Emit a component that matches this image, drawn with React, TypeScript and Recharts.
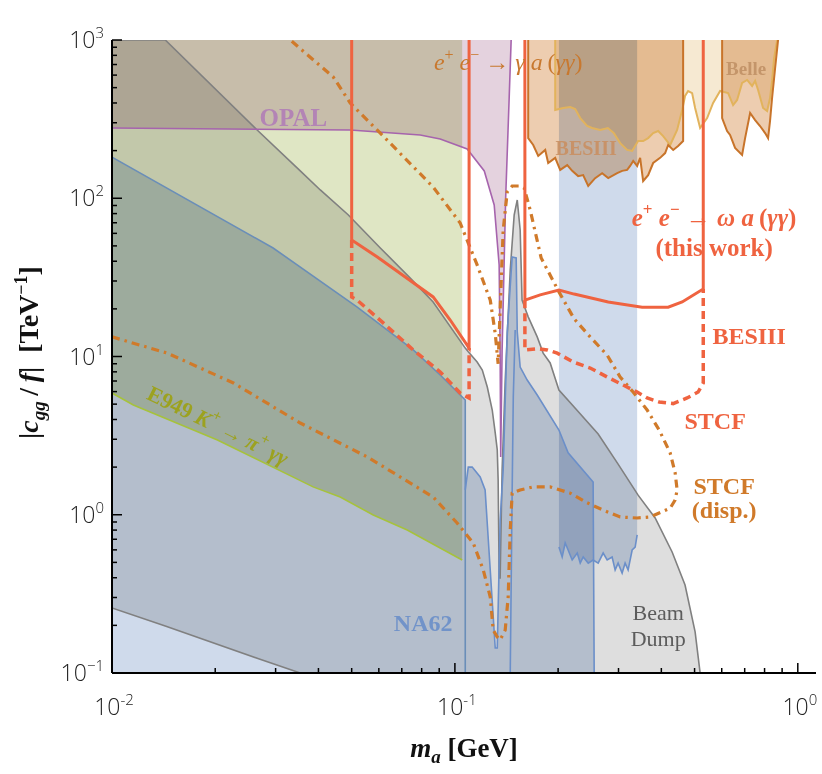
import React from 'react';
import { Area, ComposedChart, Line, ReferenceDot, XAxis, YAxis } from 'recharts';

// m_a in GeV, |c_gg/f| in TeV^-1. Bands are [lo, hi] ranges at each mass.
type Band = { m: number; lo: number; hi: number };
type Pt = { m: number; c: number };

const xTicks = [0.01, 0.02, 0.03, 0.04, 0.05, 0.06, 0.07, 0.08, 0.09, 0.1, 0.2, 0.3, 0.4, 0.5, 0.6, 0.7, 0.8, 0.9, 1];
const yTicks = [
  0.1, 0.2, 0.3, 0.4, 0.5, 0.6, 0.7, 0.8, 0.9, 1, 2, 3, 4, 5, 6, 7, 8, 9, 10, 20, 30, 40, 50, 60, 70, 80, 90,
  100, 200, 300, 400, 500, 600, 700, 800, 900, 1000,
];

const beamDump: Band[] = [
  { m: 0.01, lo: 0.2575, hi: 1000 },
  { m: 0.0143, lo: 0.198, hi: 1000 },
  { m: 0.0265, lo: 0.124, hi: 270 },
  { m: 0.0354, lo: 0.1, hi: 149 },
  { m: 0.0405, lo: 0.1, hi: 112.8 },
  { m: 0.0489, lo: 0.1, hi: 78.4 },
  { m: 0.0606, lo: 0.1, hi: 48.5 },
  { m: 0.0741, lo: 0.1, hi: 31.3 },
  { m: 0.0864, lo: 0.1, hi: 22.1 },
  { m: 0.1072, lo: 0.1, hi: 11.3 },
  { m: 0.1094, lo: 0.1, hi: 10.7 },
  { m: 0.1161, lo: 0.1, hi: 9.23 },
  { m: 0.1202, lo: 0.1, hi: 8.22 },
  { m: 0.1243, lo: 0.1, hi: 6.42 },
  { m: 0.1285, lo: 0.1, hi: 4.59 },
  { m: 0.1311, lo: 0.1, hi: 3.29 },
  { m: 0.1329, lo: 0.1, hi: 2.57 },
  { m: 0.1337, lo: 0.1, hi: 1.66 },
  { m: 0.1346, lo: 0.1, hi: 0.398 },
  { m: 0.1355, lo: 0.1, hi: 0.398 },
  { m: 0.1373, lo: 0.1, hi: 1.92 },
  { m: 0.1402, lo: 0.1, hi: 7.1 },
  { m: 0.145, lo: 0.1, hi: 35.2 },
  { m: 0.1489, lo: 0.1, hi: 78.4 },
  { m: 0.152, lo: 0.1, hi: 97.5 },
  { m: 0.155, lo: 0.1, hi: 63 },
  { m: 0.157, lo: 0.1, hi: 22.7 },
  { m: 0.1636, lo: 0.1, hi: 17.8 },
  { m: 0.1738, lo: 0.1, hi: 13.3 },
  { m: 0.1809, lo: 0.1, hi: 10.5 },
  { m: 0.1896, lo: 0.1, hi: 9.1 },
  { m: 0.2011, lo: 0.1, hi: 6.14 },
  { m: 0.2227, lo: 0.1, hi: 4.8 },
  { m: 0.2617, lo: 0.1, hi: 3.24 },
  { m: 0.2992, lo: 0.1, hi: 2.09 },
  { m: 0.3422, lo: 0.1, hi: 1.33 },
  { m: 0.3837, lo: 0.1, hi: 0.954 },
  { m: 0.43, lo: 0.1, hi: 0.582 },
  { m: 0.469, lo: 0.1, hi: 0.36 },
  { m: 0.5018, lo: 0.1, hi: 0.182 },
  { m: 0.519, lo: 0.1, hi: 0.1 },
];

const na62Low: Band[] = [
  { m: 0.01, lo: 0.1, hi: 182 },
  { m: 0.0295, lo: 0.1, hi: 48.5 },
  { m: 0.0519, lo: 0.1, hi: 20.5 },
  { m: 0.0756, lo: 0.1, hi: 11.0 },
  { m: 0.0906, lo: 0.1, hi: 7.64 },
  { m: 0.1072, lo: 0.1, hi: 5.31 },
  { m: 0.1072, lo: 0.1, hi: 0.1 },
];

const na62High: Band[] = [
  { m: 0.1072, lo: 0.1, hi: 1.434 },
  { m: 0.1094, lo: 0.1, hi: 2.0 },
  { m: 0.1123, lo: 0.1, hi: 2.0 },
  { m: 0.1185, lo: 0.1, hi: 1.733 },
  { m: 0.1225, lo: 0.1, hi: 1.434 },
  { m: 0.1311, lo: 0.1, hi: 0.144 },
  { m: 0.1329, lo: 0.1, hi: 0.144 },
  { m: 0.1355, lo: 0.1, hi: 0.927 },
  { m: 0.1383, lo: 0.1, hi: 1.92 },
  { m: 0.1421, lo: 0.1, hi: 14.3 },
  { m: 0.1469, lo: 0.1, hi: 42.5 },
  { m: 0.1509, lo: 0.1, hi: 42 },
  { m: 0.152, lo: 0.1, hi: 14.3 },
  { m: 0.155, lo: 0.1, hi: 8.58 },
  { m: 0.1625, lo: 0.1, hi: 7.1 },
  { m: 0.1738, lo: 0.1, hi: 5.71 },
  { m: 0.2011, lo: 0.1, hi: 3.43 },
  { m: 0.2139, lo: 0.1, hi: 2.46 },
  { m: 0.253, lo: 0.1, hi: 1.61 },
  { m: 0.2548, lo: 0.1, hi: 0.1 },
];

const na62Inner: Pt[] = [
  { m: 0.145, c: 0.1 },
  { m: 0.1469, c: 1.43 },
  { m: 0.148, c: 5.55 },
  { m: 0.1499, c: 14.7 },
];

const na62Band: Band[] = [
  { m: 0.2011, lo: 0.625, hi: 1000 },
  { m: 0.2055, lo: 0.541, hi: 1000 },
  { m: 0.2097, lo: 0.663, hi: 1000 },
  { m: 0.2139, lo: 0.599, hi: 1000 },
  { m: 0.2198, lo: 0.518, hi: 1000 },
  { m: 0.2274, lo: 0.573, hi: 1000 },
  { m: 0.232, lo: 0.495, hi: 1000 },
  { m: 0.2367, lo: 0.541, hi: 1000 },
  { m: 0.2448, lo: 0.495, hi: 1000 },
  { m: 0.253, lo: 0.518, hi: 1000 },
  { m: 0.2617, lo: 0.495, hi: 1000 },
  { m: 0.2706, lo: 0.573, hi: 1000 },
  { m: 0.278, lo: 0.518, hi: 1000 },
  { m: 0.2874, lo: 0.541, hi: 1000 },
  { m: 0.2933, lo: 0.448, hi: 1000 },
  { m: 0.2992, lo: 0.495, hi: 1000 },
  { m: 0.3074, lo: 0.428, hi: 1000 },
  { m: 0.3136, lo: 0.495, hi: 1000 },
  { m: 0.32, lo: 0.448, hi: 1000 },
  { m: 0.3288, lo: 0.599, hi: 1000 },
  { m: 0.3355, lo: 0.625, hi: 1000 },
  { m: 0.34, lo: 0.745, hi: 1000 },
];

const e949: Band[] = [
  { m: 0.01, lo: 5.88, hi: 1000 },
  { m: 0.01154, lo: 4.94, hi: 1000 },
  { m: 0.0203, lo: 2.97, hi: 1000 },
  { m: 0.0386, lo: 1.5, hi: 1000 },
  { m: 0.0463, lo: 1.295, hi: 1000 },
  { m: 0.0578, lo: 0.996, hi: 1000 },
  { m: 0.0726, lo: 0.8, hi: 1000 },
  { m: 0.105, lo: 0.518, hi: 1000 },
];

const opal: Band[] = [
  { m: 0.01, lo: 278, hi: 1000 },
  { m: 0.0495, lo: 270, hi: 1000 },
  { m: 0.0792, lo: 251, hi: 1000 },
  { m: 0.0906, lo: 237, hi: 1000 },
  { m: 0.1086, lo: 205, hi: 1000 },
  { m: 0.1218, lo: 148.7, hi: 1000 },
  { m: 0.1302, lo: 90.7, hi: 1000 },
  { m: 0.1346, lo: 37.9, hi: 1000 },
  { m: 0.1355, lo: 10.5, hi: 1000 },
  { m: 0.136, lo: 2.32, hi: 1000 },
  { m: 0.1373, lo: 10.9, hi: 1000 },
  { m: 0.1406, lo: 100, hi: 1000 },
  { m: 0.144, lo: 436, hi: 1000 },
  { m: 0.1459, lo: 1000, hi: 1000 },
];

const besiiiGamma: Band[] = [
  { m: 0.1636, lo: 1000, hi: 1000 },
  { m: 0.1636, lo: 240, hi: 1000 },
  { m: 0.1692, lo: 217, hi: 1000 },
  { m: 0.175, lo: 185, hi: 1000 },
  { m: 0.1834, lo: 202, hi: 1000 },
  { m: 0.1871, lo: 167, hi: 1000 },
  { m: 0.1961, lo: 180, hi: 1000 },
  { m: 0.2028, lo: 151, hi: 1000 },
  { m: 0.2126, lo: 162, hi: 1000 },
  { m: 0.2198, lo: 149, hi: 1000 },
  { m: 0.2288, lo: 138, hi: 1000 },
  { m: 0.2366, lo: 140, hi: 1000 },
  { m: 0.2448, lo: 119.5, hi: 1000 },
  { m: 0.2564, lo: 134, hi: 1000 },
  { m: 0.2688, lo: 144, hi: 1000 },
  { m: 0.28, lo: 134, hi: 1000 },
  { m: 0.2973, lo: 144, hi: 1000 },
  { m: 0.3074, lo: 149, hi: 1000 },
  { m: 0.3179, lo: 151, hi: 1000 },
  { m: 0.3243, lo: 160, hi: 1000 },
  { m: 0.3311, lo: 172, hi: 1000 },
  { m: 0.34, lo: 160, hi: 1000 },
  { m: 0.3469, lo: 180, hi: 1000 },
  { m: 0.354, lo: 128.5, hi: 1000 },
  { m: 0.3661, lo: 140, hi: 1000 },
  { m: 0.3786, lo: 167, hi: 1000 },
  { m: 0.3967, lo: 180, hi: 1000 },
  { m: 0.4103, lo: 193, hi: 1000 },
  { m: 0.4188, lo: 217, hi: 1000 },
  { m: 0.4331, lo: 202, hi: 1000 },
  { m: 0.4477, lo: 214, hi: 1000 },
  { m: 0.463, lo: 230, hi: 1000 },
  { m: 0.463, lo: 1000, hi: 1000 },
];

const besiiiGamma2: Band[] = [
  { m: 0.6016, lo: 1000, hi: 1000 },
  { m: 0.6016, lo: 321, hi: 1000 },
  { m: 0.622, lo: 266, hi: 1000 },
  { m: 0.6346, lo: 251, hi: 1000 },
  { m: 0.6563, lo: 208, hi: 1000 },
  { m: 0.688, lo: 188, hi: 1000 },
  { m: 0.702, lo: 240, hi: 1000 },
  { m: 0.726, lo: 346, hi: 1000 },
  { m: 0.7508, lo: 312, hi: 1000 },
  { m: 0.776, lo: 286, hi: 1000 },
  { m: 0.803, lo: 258, hi: 1000 },
  { m: 0.819, lo: 240, hi: 1000 },
  { m: 0.83, lo: 308, hi: 1000 },
  { m: 0.8414, lo: 430, hi: 1000 },
  { m: 0.8587, lo: 665, hi: 1000 },
  { m: 0.876, lo: 1000, hi: 1000 },
];

const belle: Band[] = [
  { m: 0.1961, lo: 1000, hi: 1000 },
  { m: 0.1961, lo: 361, hi: 1000 },
  { m: 0.2069, lo: 372, hi: 1000 },
  { m: 0.2169, lo: 377, hi: 1000 },
  { m: 0.2243, lo: 366, hi: 1000 },
  { m: 0.232, lo: 321, hi: 1000 },
  { m: 0.243, lo: 286, hi: 1000 },
  { m: 0.2513, lo: 278, hi: 1000 },
  { m: 0.2652, lo: 270, hi: 1000 },
  { m: 0.2793, lo: 278, hi: 1000 },
  { m: 0.2908, lo: 258, hi: 1000 },
  { m: 0.3034, lo: 223, hi: 1000 },
  { m: 0.3179, lo: 202, hi: 1000 },
  { m: 0.3288, lo: 199, hi: 1000 },
  { m: 0.3422, lo: 230, hi: 1000 },
  { m: 0.354, lo: 230, hi: 1000 },
  { m: 0.3661, lo: 240, hi: 1000 },
  { m: 0.3786, lo: 258, hi: 1000 },
  { m: 0.3915, lo: 266, hi: 1000 },
  { m: 0.4049, lo: 247, hi: 1000 },
  { m: 0.4244, lo: 217, hi: 1000 },
  { m: 0.4447, lo: 270, hi: 1000 },
  { m: 0.46, lo: 361, hi: 1000 },
  { m: 0.469, lo: 443, hi: 1000 },
  { m: 0.4788, lo: 476, hi: 1000 },
  { m: 0.4918, lo: 462, hi: 1000 },
  { m: 0.5018, lo: 372, hi: 1000 },
  { m: 0.519, lo: 278, hi: 1000 },
  { m: 0.544, lo: 321, hi: 1000 },
  { m: 0.5663, lo: 400, hi: 1000 },
  { m: 0.5935, lo: 476, hi: 1000 },
  { m: 0.6264, lo: 462, hi: 1000 },
  { m: 0.6476, lo: 388, hi: 1000 },
  { m: 0.6653, lo: 418, hi: 1000 },
  { m: 0.688, lo: 535, hi: 1000 },
  { m: 0.7115, lo: 559, hi: 1000 },
  { m: 0.7358, lo: 512, hi: 1000 },
  { m: 0.7508, lo: 551, hi: 1000 },
  { m: 0.766, lo: 483, hi: 1000 },
  { m: 0.792, lo: 372, hi: 1000 },
  { m: 0.8138, lo: 356, hi: 1000 },
  { m: 0.83, lo: 430, hi: 1000 },
  { m: 0.8414, lo: 551, hi: 1000 },
  { m: 0.853, lo: 769, hi: 1000 },
  { m: 0.8707, lo: 1000, hi: 1000 },
];

// this work: BESIII (solid) and STCF (dashed) projections
const besiiiOmegaA: Pt[] = [
  { m: 0.05, c: 1000 },
  { m: 0.05, c: 54.5 },
  { m: 0.0594, c: 42.5 },
  { m: 0.0864, c: 23.8 },
  { m: 0.0969, c: 17.0 },
  { m: 0.11, c: 11.3 },
  { m: 0.11, c: 1000 },
];
const besiiiOmegaB: Pt[] = [
  { m: 0.16, c: 1000 },
  { m: 0.16, c: 22.7 },
  { m: 0.1773, c: 24.5 },
  { m: 0.2011, c: 26.3 },
  { m: 0.2227, c: 24.8 },
  { m: 0.28, c: 22.1 },
  { m: 0.3516, c: 20.5 },
  { m: 0.4188, c: 20.5 },
  { m: 0.46, c: 22.1 },
  { m: 0.53, c: 26.7 },
  { m: 0.53, c: 1000 },
];
const stcfOmegaA: Pt[] = [
  { m: 0.05, c: 54.5 },
  { m: 0.05, c: 23.8 },
  { m: 0.0519, c: 22.7 },
  { m: 0.0618, c: 16.3 },
  { m: 0.0756, c: 11.0 },
  { m: 0.0906, c: 7.98 },
  { m: 0.1036, c: 5.88 },
  { m: 0.11, c: 5.47 },
  { m: 0.11, c: 11.3 },
];
const stcfOmegaB: Pt[] = [
  { m: 0.16, c: 22.7 },
  { m: 0.16, c: 11.0 },
  { m: 0.1738, c: 11.2 },
  { m: 0.1858, c: 11.0 },
  { m: 0.1988, c: 10.5 },
  { m: 0.2213, c: 9.23 },
  { m: 0.248, c: 8.46 },
  { m: 0.278, c: 7.42 },
  { m: 0.3096, c: 6.6 },
  { m: 0.34, c: 5.96 },
  { m: 0.3636, c: 5.47 },
  { m: 0.3942, c: 5.16 },
  { m: 0.433, c: 5.04 },
  { m: 0.4755, c: 5.47 },
  { m: 0.512, c: 5.96 },
  { m: 0.53, c: 6.8 },
  { m: 0.53, c: 26.7 },
];

// STCF displaced-vertex contour, lower branch then upper branch
const stcfDisp: Pt[] = [
  { m: 0.01, c: 13.3 },
  { m: 0.0145, c: 10.5 },
  { m: 0.0226, c: 6.8 },
  { m: 0.0354, c: 3.8 },
  { m: 0.0555, c: 2.32 },
  { m: 0.0864, c: 1.295 },
  { m: 0.1015, c: 0.887 },
  { m: 0.1131, c: 0.663 },
  { m: 0.121, c: 0.448 },
  { m: 0.1268, c: 0.302 },
  { m: 0.1293, c: 0.187 },
  { m: 0.1329, c: 0.169 },
  { m: 0.1355, c: 0.162 },
  { m: 0.1402, c: 0.187 },
  { m: 0.143, c: 0.302 },
  { m: 0.145, c: 0.8 },
  { m: 0.1469, c: 1.37 },
  { m: 0.155, c: 1.434 },
  { m: 0.1691, c: 1.5 },
  { m: 0.1896, c: 1.5 },
  { m: 0.2169, c: 1.37 },
  { m: 0.243, c: 1.19 },
  { m: 0.2706, c: 1.07 },
  { m: 0.3034, c: 0.968 },
  { m: 0.34, c: 0.954 },
  { m: 0.3711, c: 0.968 },
  { m: 0.3942, c: 1.026 },
  { m: 0.4244, c: 1.1 },
  { m: 0.4388, c: 1.24 },
  { m: 0.4447, c: 1.434 },
  { m: 0.4388, c: 1.84 },
  { m: 0.4244, c: 2.46 },
  { m: 0.3942, c: 3.43 },
  { m: 0.3636, c: 4.59 },
  { m: 0.331, c: 5.96 },
  { m: 0.3034, c: 7.42 },
  { m: 0.278, c: 10.2 },
  { m: 0.248, c: 13.3 },
  { m: 0.2227, c: 17.3 },
  { m: 0.2011, c: 25.6 },
  { m: 0.1785, c: 41.9 },
  { m: 0.1658, c: 84.3 },
  { m: 0.1592, c: 116 },
  { m: 0.155, c: 119.5 },
  { m: 0.1469, c: 119.5 },
  { m: 0.1421, c: 109.5 },
  { m: 0.1383, c: 63 },
  { m: 0.1355, c: 20 },
  { m: 0.1337, c: 9.0 },
  { m: 0.1311, c: 14 },
  { m: 0.1268, c: 22.7 },
  { m: 0.1161, c: 37.9 },
  { m: 0.1036, c: 69.8 },
  { m: 0.0864, c: 117.8 },
  { m: 0.0606, c: 258 },
  { m: 0.0495, c: 400 },
  { m: 0.0442, c: 583 },
  { m: 0.0331, c: 1000 },
];

const RED = '#ef6340';
const ORANGE = '#d07a2a';
const SERIF = '"Liberation Serif", "Times New Roman", serif';
const range = (d: Band) => [d.lo, d.hi];

const Tick = (props: any) => {
  const { x, y, payload, side } = props;
  const v = payload.value;
  const lg = Math.log10(v);
  const e = Math.round(lg);
  const major = Math.abs(lg - e) < 1e-6;
  const len = major ? 10 : 5;
  const lbl = { fontFamily: '"Open Sans", "Liberation Sans", sans-serif', fontWeight: 300, fill: '#222' };
  if (side === 'bottom') {
    return (
      <g>
        <line x1={x} y1={y} x2={x} y2={y - len} stroke="#000" strokeWidth={1.5} />
        {major && (
          <text x={x + 2} y={y + 42} textAnchor="middle" fontSize={23} {...lbl}>
            10<tspan dy={-10} fontSize={15}>{e < 0 ? '-' + -e : e}</tspan>
          </text>
        )}
      </g>
    );
  }
  if (side === 'top') return <line x1={x} y1={y} x2={x} y2={y + len} stroke="#000" strokeWidth={1.5} />;
  if (side === 'right') return <line x1={x} y1={y} x2={x - len} y2={y} stroke="#000" strokeWidth={1.5} />;
  return (
    <g>
      <line x1={x} y1={y} x2={x + len} y2={y} stroke="#000" strokeWidth={1.5} />
      {major && (
        <text x={x - 8} y={y + 8} textAnchor="end" fontSize={23} {...lbl}>
          10<tspan dy={-10} fontSize={15}>{e < 0 ? '\u2212' + -e : e}</tspan>
        </text>
      )}
    </g>
  );
};

const XTitle = (props: any) => {
  const vb = props.viewBox || { x: 112, y: 673, width: 704, height: 101 };
  return (
    <text x={vb.x + vb.width / 2} y={vb.y + 84} textAnchor="middle" fontFamily={SERIF} fontSize={27} fontWeight="bold" fill="#111">
      <tspan fontStyle="italic">m</tspan>
      <tspan fontStyle="italic" fontSize={19} dy={6}>a</tspan>
      <tspan dy={-6}>{'\u00a0[GeV]'}</tspan>
    </text>
  );
};

const YTitle = (props: any) => {
  const vb = props.viewBox || { x: 0, y: 40, width: 112, height: 633 };
  const cx = vb.x + 38;
  const cy = vb.y + vb.height / 2 - 4;
  return (
    <text x={cx} y={cy} transform={`rotate(-90 ${cx} ${cy})`} textAnchor="middle" fontFamily={SERIF} fontSize={28} fontWeight="bold" fill="#111">
      <tspan>|</tspan>
      <tspan fontStyle="italic">c</tspan>
      <tspan fontStyle="italic" fontSize={19} dy={7}>gg</tspan>
      <tspan dy={-7}>{'\u2009/\u2009'}</tspan>
      <tspan fontStyle="italic">f</tspan>
      <tspan>{'|\u00a0\u00a0[TeV'}</tspan>
      <tspan fontSize={18} dy={-11}>{'\u22121'}</tspan>
      <tspan dy={11}>]</tspan>
    </text>
  );
};

const note = (render: (cx: number, cy: number) => React.ReactNode) => (p: any) => <g>{render(p.cx, p.cy)}</g>;

const App: React.FC = () => {
  const area = (data: Band[], fill: string, key: string) => (
    <Area key={key} data={data} dataKey={range} type="linear" fill={fill} fillOpacity={1} stroke="none" isAnimationActive={false} legendType="none" />
  );
  const edge = (data: any[], key: string, dk: string, stroke: string, width: number, dash?: string) => (
    <Line
      key={key}
      data={data}
      dataKey={dk}
      type="linear"
      stroke={stroke}
      strokeWidth={width}
      strokeDasharray={dash}
      dot={false}
      activeDot={false}
      isAnimationActive={false}
      legendType="none"
    />
  );

  return (
    <div style={styles.page} className="mb">
      {/* overlapping exclusion regions darken each other, as in the original plot */}
      <style>{`.mb .recharts-area { mix-blend-mode: multiply; }`}</style>
      <ComposedChart width={822} height={774} margin={{ top: 40, right: 6, bottom: 0, left: 0 }}>
        {area(beamDump, '#dedede', 'bdA')}
        {area(na62Low, '#cfdaeb', 'naA')}
        {area(na62High, '#cfdaeb', 'nbA')}
        {area(na62Band, '#cfdaeb', 'ncA')}
        {area(e949, '#dfe6c4', 'eA')}
        {area(opal, '#e4d2de', 'oA')}
        {area(besiiiGamma, '#edcdb0', 'b1A')}
        {area(besiiiGamma2, '#edcdb0', 'b2A')}
        {area(belle, '#f6e9d2', 'blA')}

        {edge(beamDump, 'bdHi', 'hi', '#808080', 1.6)}
        {edge(beamDump, 'bdLo', 'lo', '#808080', 1.6)}
        {edge(e949, 'eLo', 'lo', '#a6c23c', 1.6)}
        {edge(na62Low, 'naHi', 'hi', '#6a8eb8', 1.6)}
        {edge(na62High, 'nbHi', 'hi', '#6b8fc9', 1.6)}
        {edge(na62Inner, 'nInner', 'c', '#6b8fc9', 1.6)}
        {edge(na62Band, 'ncLo', 'lo', '#6b8fc9', 1.6)}
        {edge(opal, 'oLo', 'lo', '#a664ad', 1.6)}
        {edge(belle, 'blLo', 'lo', '#e2b35c', 2)}
        {edge(besiiiGamma, 'b1Lo', 'lo', '#c8742a', 2)}
        {edge(besiiiGamma2, 'b2Lo', 'lo', '#c8742a', 2)}

        {edge(stcfDisp, 'disp', 'c', ORANGE, 3.2, '8 5 2.5 5')}
        {edge(stcfOmegaA, 'stA', 'c', RED, 3.5, '8 5')}
        {edge(stcfOmegaB, 'stB', 'c', RED, 3.5, '8 5')}
        {edge(besiiiOmegaA, 'bsA', 'c', RED, 3)}
        {edge(besiiiOmegaB, 'bsB', 'c', RED, 3)}

        <ReferenceDot x={0.0338} y={326} r={0} ifOverflow="visible" shape={note((cx, cy) => (
          <text x={cx} y={cy} textAnchor="middle" dominantBaseline="central" fontFamily={SERIF} fontSize={25} fontWeight="bold" fill="#b384b5">OPAL</text>
        ))} />
        <ReferenceDot x={0.143} y={726} r={0} ifOverflow="visible" shape={note((cx, cy) => (
          <text x={cx} y={cy} textAnchor="middle" dominantBaseline="central" fontFamily={SERIF} fontSize={24} fill="#c8782e">
            <tspan fontStyle="italic">e</tspan><tspan dy={-8} fontSize={16}>+</tspan>
            <tspan dy={8} fontStyle="italic">{'\u00a0e'}</tspan><tspan dy={-8} fontSize={16}>{'\u2212'}</tspan>
            <tspan dy={8}>{'\u00a0\u2192\u00a0'}</tspan>
            <tspan fontStyle="italic">{'\u03b3\u00a0a'}</tspan>
            <tspan>{'\u2009('}</tspan><tspan fontStyle="italic">{'\u03b3\u03b3'}</tspan><tspan>)</tspan>
          </text>
        ))} />
        <ReferenceDot x={0.2414} y={208} r={0} ifOverflow="visible" shape={note((cx, cy) => (
          <text x={cx} y={cy} textAnchor="middle" dominantBaseline="central" fontFamily={SERIF} fontSize={20} fontWeight="bold" fill="#c98f62" fillOpacity={0.9}>BESIII</text>
        ))} />
        <ReferenceDot x={0.707} y={656} r={0} ifOverflow="visible" shape={note((cx, cy) => (
          <text x={cx} y={cy} textAnchor="middle" dominantBaseline="central" fontFamily={SERIF} fontSize={19} fontWeight="bold" fill="#c4956a">Belle</text>
        ))} />
        <ReferenceDot x={0.57} y={76.1} r={0} ifOverflow="visible" shape={note((cx, cy) => (
          <text x={cx} y={cy} textAnchor="middle" dominantBaseline="central" fontFamily={SERIF} fontSize={25} fontWeight="bold" fill={RED}>
            <tspan fontStyle="italic">e</tspan><tspan dy={-8} fontSize={17}>+</tspan>
            <tspan dy={8} fontStyle="italic">{'\u00a0e'}</tspan><tspan dy={-8} fontSize={17}>{'\u2212'}</tspan>
            <tspan dy={8}>{'\u00a0\u2192\u00a0'}</tspan>
            <tspan fontStyle="italic">{'\u03c9\u00a0a'}</tspan>
            <tspan>{'\u2009('}</tspan><tspan fontStyle="italic">{'\u03b3\u03b3'}</tspan><tspan>)</tspan>
          </text>
        ))} />
        <ReferenceDot x={0.57} y={48.5} r={0} ifOverflow="visible" shape={note((cx, cy) => (
          <text x={cx} y={cy} textAnchor="middle" dominantBaseline="central" fontFamily={SERIF} fontSize={25} fontWeight="bold" fill={RED}>(this work)</text>
        ))} />
        <ReferenceDot x={0.721} y={13.5} r={0} ifOverflow="visible" shape={note((cx, cy) => (
          <text x={cx} y={cy} textAnchor="middle" dominantBaseline="central" fontFamily={SERIF} fontSize={24} fontWeight="bold" fill={RED}>BESIII</text>
        ))} />
        <ReferenceDot x={0.574} y={3.91} r={0} ifOverflow="visible" shape={note((cx, cy) => (
          <text x={cx} y={cy} textAnchor="middle" dominantBaseline="central" fontFamily={SERIF} fontSize={24} fontWeight="bold" fill={RED}>STCF</text>
        ))} />
        <ReferenceDot x={0.61} y={1.52} r={0} ifOverflow="visible" shape={note((cx, cy) => (
          <text x={cx} y={cy} textAnchor="middle" dominantBaseline="central" fontFamily={SERIF} fontSize={24} fontWeight="bold" fill={ORANGE}>STCF</text>
        ))} />
        <ReferenceDot x={0.61} y={1.07} r={0} ifOverflow="visible" shape={note((cx, cy) => (
          <text x={cx} y={cy} textAnchor="middle" dominantBaseline="central" fontFamily={SERIF} fontSize={24} fontWeight="bold" fill={ORANGE}>(disp.)</text>
        ))} />
        <ReferenceDot x={0.0808} y={0.207} r={0} ifOverflow="visible" shape={note((cx, cy) => (
          <text x={cx} y={cy} textAnchor="middle" dominantBaseline="central" fontFamily={SERIF} fontSize={24} fontWeight="bold" fill="#7193c9">NA62</text>
        ))} />
        <ReferenceDot x={0.3915} y={0.24} r={0} ifOverflow="visible" shape={note((cx, cy) => (
          <text x={cx} y={cy} textAnchor="middle" dominantBaseline="central" fontFamily={SERIF} fontSize={22} fill="#5c5c5c">Beam</text>
        ))} />
        <ReferenceDot x={0.3915} y={0.166} r={0} ifOverflow="visible" shape={note((cx, cy) => (
          <text x={cx} y={cy} textAnchor="middle" dominantBaseline="central" fontFamily={SERIF} fontSize={22} fill="#5c5c5c">Dump</text>
        ))} />
        <ReferenceDot x={0.0204} y={3.69} r={0} ifOverflow="visible" shape={note((cx, cy) => (
          <text x={cx} y={cy} transform={`rotate(26 ${cx} ${cy})`} textAnchor="middle" dominantBaseline="central" fontFamily={SERIF} fontSize={22} fontWeight="bold" fill="#9ca21f">
            <tspan>{'E949\u00a0'}</tspan>
            <tspan fontStyle="italic">K</tspan><tspan dy={-8} fontSize={15}>+</tspan>
            <tspan dy={8}>{'\u00a0\u2192\u00a0'}</tspan>
            <tspan fontStyle="italic">{'\u03c0'}</tspan><tspan dy={-8} fontSize={15}>+</tspan>
            <tspan dy={8} fontStyle="italic">{'\u00a0\u03b3\u03b3'}</tspan>
          </text>
        ))} />

        <XAxis
          type="number"
          dataKey="m"
          scale="log"
          domain={[0.01, 1.13]}
          allowDataOverflow
          ticks={xTicks}
          interval={0}
          tickSize={0}
          tickMargin={0}
          tickLine={false}
          axisLine={{ stroke: '#000', strokeWidth: 2 }}
          height={101}
          tick={<Tick side="bottom" />}
          label={<XTitle />}
        />
        <XAxis
          xAxisId="top"
          orientation="top"
          type="number"
          dataKey="m"
          scale="log"
          domain={[0.01, 1.13]}
          allowDataOverflow
          ticks={xTicks}
          interval={0}
          tickSize={0}
          tickMargin={0}
          tickLine={false}
          axisLine={{ stroke: '#000', strokeWidth: 2 }}
          height={0}
          tick={<Tick side="top" />}
        />
        <YAxis
          type="number"
          scale="log"
          domain={[0.1, 1000]}
          allowDataOverflow
          ticks={yTicks}
          interval={0}
          tickSize={0}
          tickMargin={0}
          tickLine={false}
          axisLine={{ stroke: '#000', strokeWidth: 2 }}
          width={112}
          tick={<Tick side="left" />}
          label={<YTitle />}
        />
        <YAxis
          yAxisId="right"
          orientation="right"
          type="number"
          scale="log"
          domain={[0.1, 1000]}
          allowDataOverflow
          ticks={yTicks}
          interval={0}
          tickSize={0}
          tickMargin={0}
          tickLine={false}
          axisLine={{ stroke: '#000', strokeWidth: 2 }}
          width={0}
          tick={<Tick side="right" />}
        />
      </ComposedChart>
    </div>
  );
};

const styles = {
  page: {
    position: 'absolute' as const,
    left: 0,
    top: 0,
    width: 822,
    height: 774,
    background: '#fff',
  },
};

export default App;
